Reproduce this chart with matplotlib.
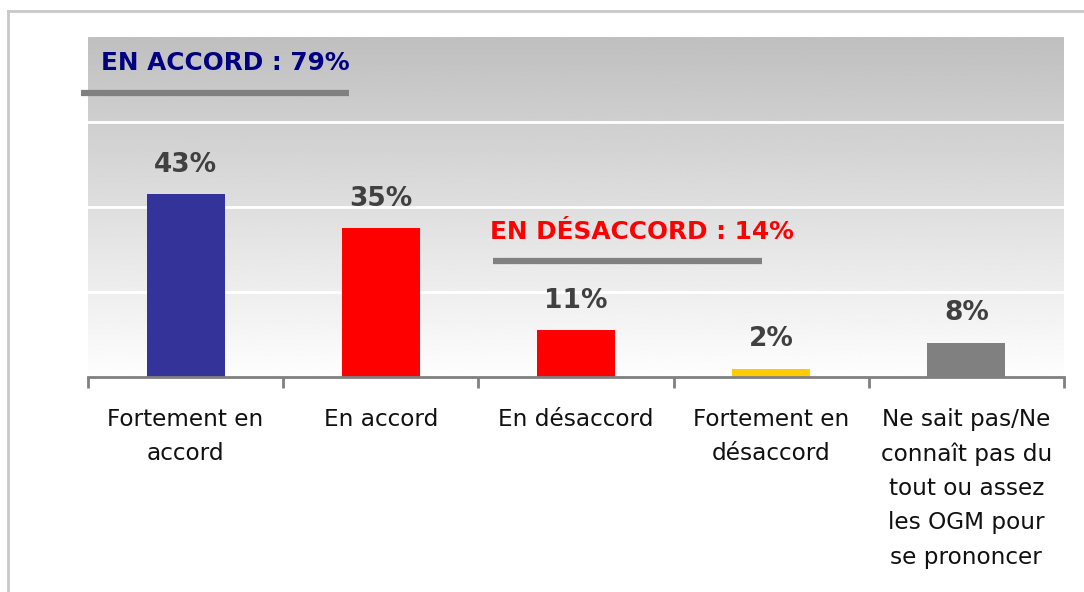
import numpy as np
import matplotlib
matplotlib.use('Agg')
import matplotlib.pyplot as plt
from matplotlib.lines import Line2D

categories = ['Fortement en\naccord', 'En accord', 'En désaccord',
              'Fortement en\ndésaccord',
              'Ne sait pas/Ne\nconnaît pas du\ntout ou assez\nles OGM pour\nse prononcer']
values = [43, 35, 11, 2, 8]
bar_colors = ['#333399', '#FF0000', '#FF0000', '#FFCC00', '#808080']
accord_label = 'EN ACCORD : 79%'
desaccord_label = 'EN DÉSACCORD : 14%'

plt.rcParams['font.family'] = ['DejaVu Sans']

fig = plt.figure(figsize=(10.84, 5.92), dpi=100)
ax = fig.add_axes([88 / 1084, 1 - 377 / 592, 976 / 1084, 340 / 592])

# gradient background, gray at top to white at bottom
grad = np.linspace(0.75, 0.995, 256).reshape(-1, 1)
ax.imshow(grad, extent=[-0.5, 4.5, 0, 80], cmap='gray', vmin=0, vmax=1,
          aspect='auto', zorder=0, origin='upper')
ax.set_ylim(0, 80)
ax.set_xlim(-0.5, 4.5)

for g in [20, 40, 60]:
    ax.axhline(g, color='white', lw=2, zorder=1)

x = np.arange(len(categories))
ax.bar(x, values, width=0.4, color=bar_colors, zorder=2)

for xi, v in zip(x, values):
    ax.annotate(f'{v}%', (xi, v), xytext=(0, 12), textcoords='offset points',
                ha='center', va='bottom', fontsize=19, fontweight='bold',
                color='#404040')

for s in ['top', 'right', 'left']:
    ax.spines[s].set_visible(False)
ax.spines['bottom'].set_color('#808080')
ax.spines['bottom'].set_linewidth(2)
ax.set_yticks([])
ax.set_xticks(x)
ax.set_xticklabels(categories, fontsize=16.7, linespacing=1.63, color='#111111')
ax.tick_params(axis='x', which='major', length=0, pad=22)
ax.set_xticks(np.arange(-0.5, 5, 1), minor=True)
ax.tick_params(axis='x', which='minor', length=8, width=2, color='#808080',
               direction='out')

# group annotations
fig.text(101 / 1084, 1 - 63 / 592, accord_label, color='#000080',
         fontsize=17.8, fontweight='bold', va='center', ha='left')
fig.add_artist(Line2D([81 / 1084, 349 / 1084], [1 - 93 / 592] * 2,
                      color='#808080', lw=4.5, solid_capstyle='butt'))
fig.text(490 / 1084, 1 - 232 / 592, desaccord_label, color='#FF0000',
         fontsize=17.8, fontweight='bold', va='center', ha='left')
fig.add_artist(Line2D([493 / 1084, 762 / 1084], [1 - 261 / 592] * 2,
                      color='#808080', lw=4.5, solid_capstyle='butt'))

# frame border
fig.add_artist(Line2D([8 / 1084, 8 / 1084], [0, 1 - 11 / 592],
                      color='#c8c8c8', lw=2))
fig.add_artist(Line2D([8 / 1084, 1], [1 - 11 / 592] * 2,
                      color='#c8c8c8', lw=2))

fig.savefig('out.png', dpi=100)
